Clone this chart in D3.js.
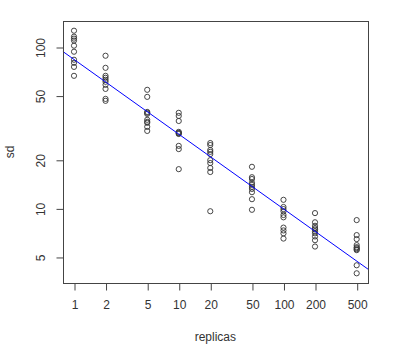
<!DOCTYPE html>
<html>
<head>
<meta charset="utf-8">
<script src="https://cdn.jsdelivr.net/npm/d3@7"></script>
<style>
  html, body { margin: 0; padding: 0; background: #fff; }
  svg { display: block; }
  text { font-family: "Liberation Sans", Arial, Helvetica, sans-serif; fill: #333; }
</style>
</head>
<body>
<svg id="chart" width="400" height="360"></svg>
<script>
// ---- data ----
const replicas = [1, 2, 5, 10, 20, 50, 100, 200, 500];
const sd_r1   = [126.2, 115.9, 112.7, 109.6, 101.9, 93.5, 83.4, 79.8, 75.3, 66.3];
const sd_r2   = [88.3, 74.3, 66.3, 64.5, 62.6, 60.9, 58.3, 55.0, 47.7, 46.4];
const sd_r5   = [54.3, 49.1, 39.6, 39.1, 38.5, 35.4, 34.4, 33.9, 32.0, 30.2];
const sd_r10  = [39.1, 37.4, 34.8, 29.8, 29.4, 29.2, 28.9, 24.4, 23.3, 17.5];
const sd_r20  = [25.4, 24.7, 23.0, 22.4, 21.7, 19.9, 19.1, 17.8, 16.8, 9.6];
const sd_r50  = [18.1, 15.6, 15.2, 14.4, 14.0, 13.6, 13.2, 12.6, 11.4, 9.8];
const sd_r100 = [11.3, 10.2, 9.9, 9.6, 9.1, 8.8, 7.6, 7.3, 7.0, 6.5];
const sd_r200 = [9.35, 8.2, 7.8, 7.55, 7.4, 7.2, 7.0, 6.7, 6.35, 5.8];
const sd_r500 = [8.46, 6.83, 6.45, 5.92, 5.75, 5.67, 5.58, 5.51, 4.44, 3.96];
const sdByReplicas = [sd_r1, sd_r2, sd_r5, sd_r10, sd_r20, sd_r50, sd_r100, sd_r200, sd_r500];
const xTicks = [1, 2, 5, 10, 20, 50, 100, 200, 500];
const yTicks = [5, 10, 20, 50, 100];
// fitted line: log10(sd) = a + b*log10(replicas)
const fitA = 1.923, fitB = -0.463;
const xLabel = "replicas", yLabel = "sd";

// ---- layout ----
const plot = { left: 62.7, right: 368, top: 21, bottom: 283 };

const points = [];
replicas.forEach((r, i) => sdByReplicas[i].forEach(v => points.push({ x: r, y: v })));

function logDomain(vals) {
  const lo = Math.log10(d3.min(vals)), hi = Math.log10(d3.max(vals));
  const pad = 0.04 * (hi - lo);
  return [Math.pow(10, lo - pad), Math.pow(10, hi + pad)];
}

const x = d3.scaleLog().domain(logDomain(points.map(p => p.x))).range([plot.left, plot.right]);
const y = d3.scaleLog().domain(logDomain(points.map(p => p.y))).range([plot.bottom, plot.top]);

const svg = d3.select("#chart");
const ink = "#444";
const font = '"Liberation Sans", Arial, sans-serif';

svg.append("defs").append("clipPath").attr("id", "clip")
  .append("rect").attr("x", plot.left).attr("y", plot.top)
  .attr("width", plot.right - plot.left).attr("height", plot.bottom - plot.top);

// points
svg.append("g").selectAll("circle").data(points).join("circle")
  .attr("cx", d => x(d.x)).attr("cy", d => y(d.y)).attr("r", 2.6)
  .attr("fill", "none").attr("stroke", "#333").attr("stroke-width", 0.9);

// fitted line
const [xd0, xd1] = x.domain();
const fitY = v => Math.pow(10, fitA + fitB * Math.log10(v));
svg.append("line").attr("clip-path", "url(#clip)")
  .attr("x1", x(xd0)).attr("y1", y(fitY(xd0)))
  .attr("x2", x(xd1)).attr("y2", y(fitY(xd1)))
  .attr("stroke", "#0000ff").attr("stroke-width", 1);

// box
svg.append("rect")
  .attr("x", Math.round(plot.left) + 0.5).attr("y", plot.top + 0.5)
  .attr("width", Math.round(plot.right) - Math.round(plot.left)).attr("height", plot.bottom - plot.top)
  .attr("fill", "none").attr("stroke", ink).attr("stroke-width", 1);

// x axis
const xAxis = d3.axisBottom(x).tickValues(xTicks).tickFormat(d3.format("d"))
  .tickSize(7).tickPadding(10);
const gx = svg.append("g").attr("transform", `translate(0.5,${plot.bottom + 0.5})`).call(xAxis);
gx.select(".domain").remove();
gx.selectAll(".tick line").attr("stroke", ink);
gx.selectAll(".tick text").attr("font-size", 12).attr("fill", "#333").attr("font-family", font);

// y axis
const yAxis = d3.axisLeft(y).tickValues(yTicks).tickFormat(d3.format("d")).tickSize(7);
const gy = svg.append("g").attr("transform", `translate(${Math.round(plot.left) + 0.5},0.5)`).call(yAxis);
gy.select(".domain").remove();
gy.selectAll(".tick line").attr("stroke", ink);
gy.selectAll(".tick text")
  .attr("font-size", 12).attr("fill", "#333").attr("font-family", font)
  .attr("x", null)
  .attr("text-anchor", "middle")
  .attr("transform", "translate(-23,0) rotate(-90)")
  .attr("dy", "0.35em");

// axis titles
svg.append("text").attr("x", (plot.left + plot.right) / 2).attr("y", 341)
  .attr("text-anchor", "middle").attr("font-size", 12).text(xLabel);
svg.append("text")
  .attr("transform", `translate(14,${(plot.top + plot.bottom) / 2}) rotate(-90)`)
  .attr("text-anchor", "middle").attr("font-size", 12).text(yLabel);
</script>
</body>
</html>
